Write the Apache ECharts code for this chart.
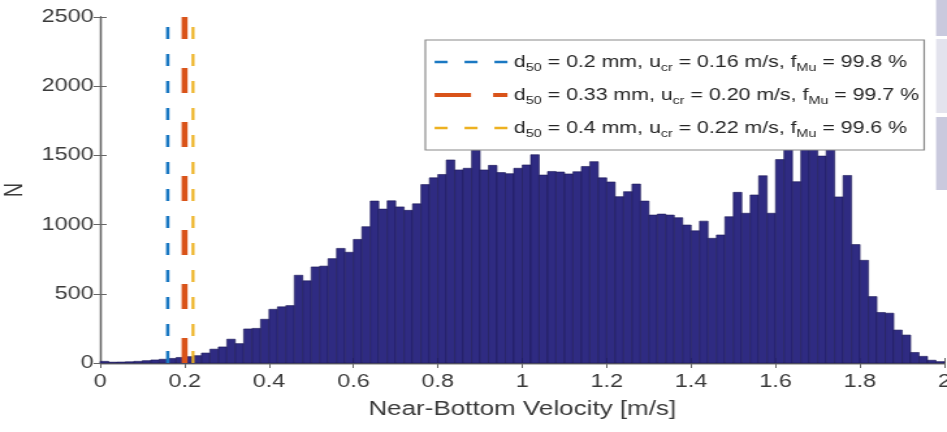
<!DOCTYPE html>
<html>
<head>
<meta charset="utf-8" />
<title>Near-bottom velocity histogram</title>
<script src="https://cdn.jsdelivr.net/npm/echarts@6/dist/echarts.min.js"></script>
<style>
	html, body { margin: 0; padding: 0; background: #fff; overflow: hidden; }
	/* the source figure is stretched sideways, so the chart is drawn narrow and widened */
	#main { width: 728px; height: 432px; transform: scaleX(1.3008); transform-origin: 0 0; }
</style>
</head>
<body>
<div id="main"></div>
<script>
// histogram bins: 0 .. 2 m/s, width 0.02
var binStart = 0;
var binWidth = 0.02;
var counts = [
	12, 6, 7, 9, 12, 17, 22, 27, 33, 40,
	46, 53, 72, 100, 116, 172, 140, 246, 250, 316,
	388, 406, 415, 634, 594, 694, 700, 754, 828, 800,
	893, 985, 1170, 1112, 1172, 1128, 1103, 1150, 1289, 1338,
	1362, 1467, 1395, 1407, 1537, 1395, 1428, 1376, 1368, 1407,
	1431, 1505, 1358, 1384, 1380, 1366, 1382, 1420, 1455, 1338,
	1308, 1202, 1238, 1293, 1170, 1069, 1076, 1069, 1050, 997,
	955, 1025, 901, 925, 1057, 1233, 1082, 1214, 1353, 1082,
	1470, 1640, 1310, 1680, 1660, 1495, 1700, 1200, 1355, 856,
	742, 480, 365, 360, 238, 202, 76, 48, 20, 10
];

// critical velocities (m/s) and legend texts
var ucr = [0.16, 0.20, 0.22];
var lineNames = ['d50 0.2', 'd50 0.33', 'd50 0.4'];
var lineLabels = [
	'd{s|50} = 0.2 mm, u{s|cr} = 0.16 m/s, f{s|Mu} = 99.8 %',
	'd{s|50} = 0.33 mm, u{s|cr} = 0.20 m/s, f{s|Mu} = 99.7 %',
	'd{s|50} = 0.4 mm, u{s|cr} = 0.22 m/s, f{s|Mu} = 99.6 %'
];
var lineColors = ['#1a78c2', '#d95319', '#edb120'];

var yMin = 0, yMax = 2500;

var fontName = "'Liberation Sans', Arial, sans-serif";
var axisColor = '#666666';
var labelColor = '#3a3a3a';

var binData = counts.map(function(c, i) {
	return [binStart + i * binWidth, binStart + (i + 1) * binWidth, c];
});

var chart = echarts.init(document.getElementById('main'));

var series = [{
	name: 'hist',
	type: 'custom',
	data: binData,
	encode: { x: [0, 1], y: 2 },
	z: 2,
	renderItem: function(params, api) {
		var p0 = api.coord([api.value(0), api.value(2)]);
		var p1 = api.coord([api.value(1), 0]);
		return {
			type: 'rect',
			shape: { x: p0[0], y: p0[1], width: p1[0] - p0[0], height: p1[1] - p0[1] },
			style: { fill: '#2f2b82', stroke: '#1d1a58', lineWidth: 0.6 }
		};
	}
}];

var lineWidths = [2.6, 4.6, 2.2];
var lineDash = [[12, 15], [25, 29], [12, 15]];
for (var i = 0; i < ucr.length; i++) {
	series.push({
		name: lineNames[i],
		type: 'line',
		data: [[ucr[i], yMin], [ucr[i], yMax]],
		symbol: 'none',
		z: 5,
		silent: true,
		color: lineColors[i],
		lineStyle: { color: lineColors[i], width: lineWidths[i], type: lineDash[i] }
	});
}

var legendDash = [[10, 13], [28, 17], [10, 13]];
var legendWidths = [2.6, 4.2, 2.4];

function plainNum(v) { return String(v); }

var option = {
	animation: false,
	textStyle: { fontFamily: fontName },
	grid: { left: 77, right: 2, top: 17, bottom: 69, outerBoundsMode: 'none', containLabel: false },
	legend: {
		orient: 'vertical',
		left: 327,
		top: 40,
		padding: [11, 4, 11, 5],
		itemGap: 11,
		itemWidth: 56,
		itemHeight: 14,
		backgroundColor: '#fff',
		borderColor: '#8a8a8a',
		borderWidth: 1.2,
		borderRadius: 0,
		data: lineNames.map(function(n, i) {
			return {
				name: n,
				itemStyle: { color: 'rgba(0,0,0,0)', borderColor: 'rgba(0,0,0,0)', borderWidth: 0, opacity: 0 },
				lineStyle: { type: legendDash[i], width: legendWidths[i], color: lineColors[i] }
			};
		}),
		formatter: function(name) {
			return lineLabels[lineNames.indexOf(name)];
		},
		textStyle: {
			fontFamily: fontName,
			fontSize: 16.4,
			color: '#262626',
			lineHeight: 22,
			rich: {
				s: { fontFamily: fontName, fontSize: 11, color: '#262626', lineHeight: 11, verticalAlign: 'bottom' }
			}
		}
	},
	xAxis: [{
		type: 'value',
		min: 0,
		max: 2,
		interval: 0.2,
		name: 'Near-Bottom Velocity [m/s]',
		nameLocation: 'middle',
		nameGap: 36,
		nameTextStyle: { fontSize: 20, color: labelColor, fontFamily: fontName },
		axisLine: { lineStyle: { color: axisColor, width: 1.3 } },
		axisTick: { inside: true, length: 5, lineStyle: { color: axisColor } },
		axisLabel: { fontSize: 18, color: labelColor, margin: 10, fontFamily: fontName, formatter: plainNum },
		splitLine: { show: false }
	}, {
		type: 'value',
		position: 'top',
		min: 0,
		max: 2,
		interval: 0.2,
		axisLine: { show: true, lineStyle: { color: axisColor, width: 1.3 } },
		axisTick: { show: true, inside: true, length: 5, lineStyle: { color: axisColor } },
		axisLabel: { show: false },
		splitLine: { show: false }
	}],
	yAxis: [{
		type: 'value',
		min: yMin,
		max: yMax,
		interval: 500,
		name: 'N',
		nameLocation: 'middle',
		nameGap: 55,
		nameTextStyle: { fontSize: 20, color: labelColor, fontFamily: fontName },
		axisLine: { show: true, lineStyle: { color: axisColor, width: 1.3 } },
		axisTick: { show: true, inside: true, length: 5, lineStyle: { color: axisColor } },
		axisLabel: { fontSize: 18, color: labelColor, margin: 5, fontFamily: fontName, formatter: plainNum },
		splitLine: { show: false }
	}, {
		type: 'value',
		position: 'right',
		min: yMin,
		max: yMax,
		interval: 500,
		axisLine: { show: true, lineStyle: { color: axisColor, width: 1.3 } },
		axisTick: { show: true, inside: true, length: 5, lineStyle: { color: axisColor } },
		axisLabel: { show: false },
		splitLine: { show: false }
	}],
	// neighbouring panels that overlap the right edge of the figure
	graphic: [
		{ type: 'rect', right: 0, top: 0, z: 100, shape: { width: 8.4, height: 36 }, style: { fill: '#c9c9dd' } },
		{ type: 'rect', right: 0, top: 39, z: 100, shape: { width: 8.4, height: 74 }, style: { fill: '#e3e3ed' } },
		{ type: 'rect', right: 0, top: 117, z: 100, shape: { width: 8.4, height: 73 }, style: { fill: '#c9c9dd' } }
	],
	series: series
};

chart.setOption(option);
</script>
</body>
</html>
